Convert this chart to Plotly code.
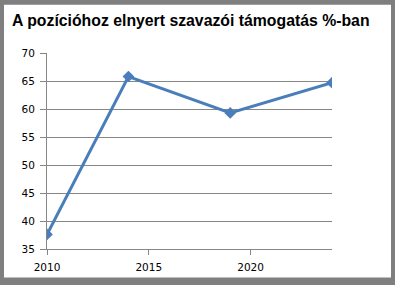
import plotly.graph_objects as go

years = [2010, 2014, 2019, 2024]
support = [37.6, 65.8, 59.3, 64.7]
x_ticks = [2010, 2015, 2020]
y_ticks = [35, 40, 45, 50, 55, 60, 65, 70]
title = "A pozícióhoz elnyert szavazói támogatás %-ban"

W, H = 395, 285
ml, mr, mt, mb = 47, 63, 53, 33
pw, ph = W - ml - mr, H - mt - mb

fig = go.Figure()
fig.add_trace(go.Scatter(
    x=years, y=support, mode="lines+markers",
    line=dict(color="#4a7ebb", width=3),
    marker=dict(symbol="diamond", size=9, color="#4a7ebb"),
    showlegend=False, hoverinfo="skip",
))

# white card inside gray frame
bl, br, bt, bb = 4, 4, 4, 4
fig.add_shape(type="rect", xref="paper", yref="paper", layer="below",
              x0=(bl - ml) / pw, x1=(W - br - ml) / pw,
              y0=(bb - mb) / ph, y1=(H - bt - mb) / ph,
              fillcolor="white", line=dict(width=0))

fig.update_layout(
    width=W, height=H,
    margin=dict(l=ml, r=mr, t=mt, b=mb),
    paper_bgcolor="#7f7f7f", plot_bgcolor="white",
    title=dict(text=title, x=12 / W, xanchor="left", y=1 - 20 / H, yanchor="middle",
               font=dict(family="Liberation Sans, Arial", size=15.8, color="black", weight="bold")),
    font=dict(family="DejaVu Sans", size=10.5, color="black"),
)
fig.update_xaxes(range=[2010, 2024], tickvals=x_ticks, showgrid=False,
                 showline=True, linecolor="#868686", linewidth=1,
                 ticks="outside", ticklen=5, tickcolor="#868686", zeroline=False,
                 ticklabelstandoff=3)
fig.update_yaxes(range=[35, 70], tickvals=y_ticks, showgrid=True, gridcolor="#868686", gridwidth=1,
                 showline=True, linecolor="#868686", linewidth=1,
                 ticks="outside", ticklen=6, tickcolor="#868686", zeroline=False,
                 ticklabelstandoff=3)

fig.write_html("out.html", config={"displayModeBar": False},
               post_script="document.body.style.margin='0';document.body.style.overflow='hidden';")
